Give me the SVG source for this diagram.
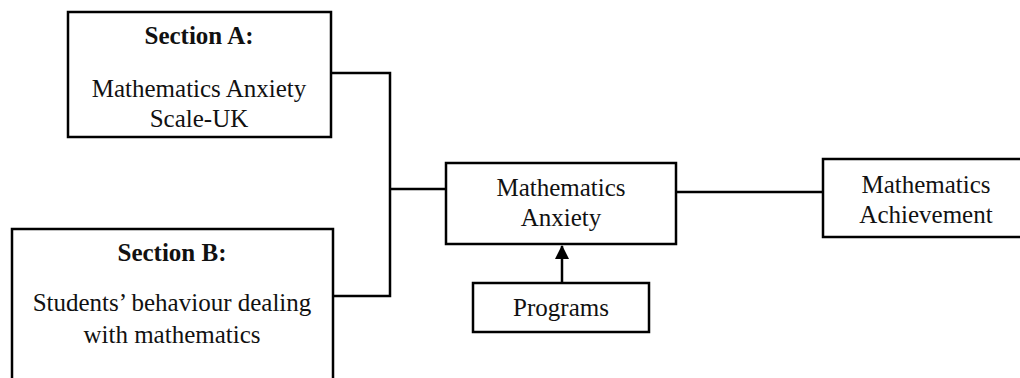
<svg xmlns="http://www.w3.org/2000/svg" width="1020" height="378" viewBox="0 0 1020 378">
<style>
.box{fill:#fff;stroke:#000;stroke-width:2.5}
.t{font-family:"Liberation Serif","Times New Roman",serif;font-size:25px;fill:#111;text-anchor:middle}
.b{font-weight:bold}
.ln{fill:none;stroke:#000;stroke-width:2.5}
</style>
<defs>
<marker id="ah" markerWidth="14" markerHeight="14" refX="13" refY="7" orient="auto" markerUnits="userSpaceOnUse">
<path d="M0,0 L14,7 L0,14 Z" fill="#000"/>
</marker>
</defs>
<rect width="1020" height="378" fill="#fff"/>
<g id="connectors">
<path class="ln" d="M331,73 H390 V296 H333"/>
<path class="ln" d="M390,189 H446"/>
<path class="ln" d="M676,192 H823"/>
<path class="ln" d="M562,283 V246" marker-end="url(#ah)"/>
</g>
<g id="sectionA">
<rect class="box" x="68" y="12" width="263" height="125"/>
<text class="t b" x="199" y="44">Section A:</text>
<text class="t" x="199" y="97">Mathematics Anxiety</text>
<text class="t" x="199" y="127">Scale-UK</text>
</g>
<g id="sectionB">
<rect class="box" x="12" y="229" width="321" height="170"/>
<text class="t b" x="172" y="261">Section B:</text>
<text class="t" x="172" y="311">Students’ behaviour dealing</text>
<text class="t" x="172" y="343">with mathematics</text>
</g>
<g id="anxiety">
<rect class="box" x="446" y="163" width="230" height="81"/>
<text class="t" x="561" y="196">Mathematics</text>
<text class="t" x="561" y="226">Anxiety</text>
</g>
<g id="programs">
<rect class="box" x="473" y="283" width="176" height="49"/>
<text class="t" x="561" y="316">Programs</text>
</g>
<g id="achievement">
<rect class="box" x="823" y="159" width="210" height="78"/>
<text class="t" x="926" y="193">Mathematics</text>
<text class="t" x="926" y="223">Achievement</text>
</g>
</svg>
